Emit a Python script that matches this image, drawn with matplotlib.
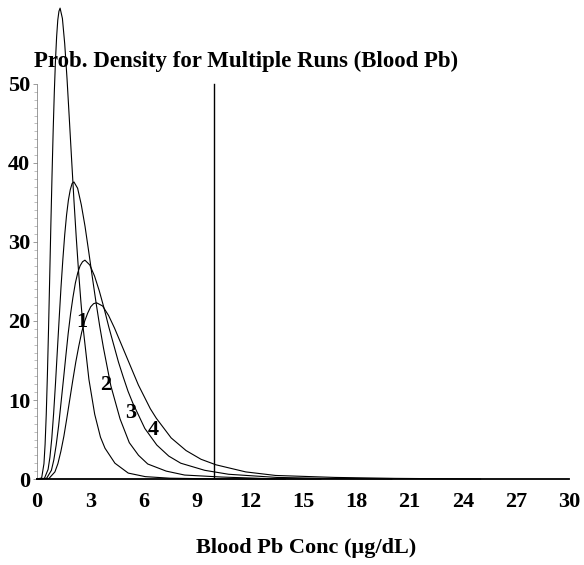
import matplotlib
matplotlib.use("Agg")
import matplotlib.pyplot as plt
from matplotlib.ticker import FixedLocator

# ---- data ----
x_run1 = [0.0, 0.26, 0.39, 0.455, 0.52, 0.585, 0.65, 0.715, 0.78, 0.845, 0.91, 0.975,
          1.04, 1.105, 1.17, 1.235, 1.30, 1.43, 1.56, 1.69, 1.82, 1.95, 2.08, 2.21,
          2.34, 2.47, 2.60, 2.925, 3.25, 3.575, 3.83, 4.39, 5.14, 6.10, 7.50, 10.0, 14.0]
y_run1 = [0.0, 0.13, 1.93, 4.4, 8.17, 13.2, 19.1, 25.6, 32.2, 38.4, 44.1, 49.0,
          53.0, 56.0, 58.1, 59.2, 59.6, 58.3, 55.1, 50.7, 45.6, 40.4, 35.3, 30.6,
          26.3, 22.5, 19.1, 12.6, 8.2, 5.3, 3.9, 2.0, 0.75, 0.3, 0.1, 0.02, 0.0]

x_run2 = [0.0, 0.416, 0.624, 0.728, 0.832, 0.936, 1.04, 1.144, 1.248, 1.352, 1.456, 1.56,
          1.664, 1.768, 1.872, 1.976, 2.08, 2.288, 2.496, 2.704, 2.912, 3.12, 3.328,
          3.536, 3.744, 3.952, 4.16, 4.68, 5.20, 5.72, 6.24, 7.28, 8.32, 10.4, 13.0, 16.0]
y_run2 = [0.0, 0.08, 1.22, 2.78, 5.15, 8.31, 12.07, 16.2, 20.3, 24.3, 27.8, 30.9,
          33.4, 35.3, 36.6, 37.4, 37.6, 36.8, 34.7, 32.0, 28.8, 25.5, 22.3,
          19.3, 16.6, 14.2, 11.8, 7.6, 4.6, 3.0, 1.9, 1.0, 0.5, 0.25, 0.05, 0.0]

x_run3 = [0.0, 0.54, 0.81, 0.945, 1.08, 1.215, 1.35, 1.485, 1.62, 1.755, 1.89, 2.025,
          2.16, 2.295, 2.43, 2.565, 2.70, 2.97, 3.24, 3.51, 3.78, 4.05, 4.32, 4.59,
          4.86, 5.13, 5.40, 6.075, 6.75, 7.425, 8.10, 9.45, 10.8, 13.5, 16.2, 20.0]
y_run3 = [0.0, 0.09, 1.1, 2.4, 4.3, 6.7, 9.6, 12.5, 15.5, 18.4, 20.9, 23.0,
          24.8, 26.1, 27.0, 27.5, 27.7, 27.1, 25.7, 23.8, 21.6, 19.2, 17.0, 14.8,
          12.9, 11.1, 9.6, 6.4, 4.3, 2.9, 2.0, 1.1, 0.6, 0.2, 0.08, 0.0]

x_run4 = [0.0, 0.672, 1.008, 1.176, 1.344, 1.512, 1.68, 1.848, 2.016, 2.184, 2.352, 2.52,
          2.688, 2.856, 3.024, 3.192, 3.36, 3.696, 4.032, 4.368, 4.704, 5.04, 5.376,
          5.712, 6.048, 6.384, 6.72, 7.56, 8.40, 9.24, 10.08, 11.76, 13.44, 16.8, 20.2, 25.0]
y_run4 = [0.0, 0.07, 0.9, 1.94, 3.5, 5.4, 7.7, 10.1, 12.5, 14.8, 16.8, 18.6,
          20.0, 21.0, 21.8, 22.2, 22.3, 21.9, 20.7, 19.1, 17.3, 15.5, 13.7,
          11.9, 10.4, 8.9, 7.7, 5.2, 3.6, 2.5, 1.8, 0.9, 0.45, 0.2, 0.08, 0.0]

run_labels = ["1", "2", "3", "4"]
label_x = [2.53, 3.88, 5.29, 6.53]
label_y = [19.9, 11.9, 8.4, 6.2]

x_ticks = [0, 3, 6, 9, 12, 15, 18, 21, 24, 27, 30]
y_ticks = [0, 10, 20, 30, 40, 50]
ref_x = 10
ref_top = 50

title = "Prob. Density for Multiple Runs (Blood Pb)"
xlabel = "Blood Pb Conc (\u00b5g/dL)"

# ---- drawing ----
plt.rcParams['font.family'] = ['Liberation Serif', 'DejaVu Serif']
fig = plt.figure(figsize=(5.84, 5.65), dpi=100)
ax = fig.add_axes([0.0634, 0.1522, 0.913, 0.839])
ax.set_xlim(0, 30.05)
ax.set_ylim(0, 60)

for xs, ys in [(x_run1, y_run1), (x_run2, y_run2), (x_run3, y_run3), (x_run4, y_run4)]:
    ax.plot(xs, ys, color='black', lw=0.8, clip_on=False)

ax.plot([ref_x, ref_x], [0, ref_top], color='black', lw=1.0)

for t, lx, ly in zip(run_labels, label_x, label_y):
    ax.text(lx, ly, t, ha='center', va='center', fontsize=16, fontweight='bold')

for s in ['top', 'right']:
    ax.spines[s].set_visible(False)
ax.spines['bottom'].set_bounds(0, 30)
ax.spines['bottom'].set_linewidth(1.3)
ax.spines['left'].set_bounds(0, 50)
ax.spines['left'].set_linewidth(0.5)
ax.spines['left'].set_color('0.45')

ax.set_xticks(x_ticks)
ax.set_xticklabels([str(v) for v in x_ticks], fontsize=16, fontweight='bold')
ax.set_yticks(y_ticks)
ax.set_yticklabels([str(v) for v in y_ticks], fontsize=16, fontweight='bold')
ax.yaxis.set_minor_locator(FixedLocator(list(range(0, 51))))
ax.tick_params(axis='x', length=0, pad=9)
ax.tick_params(axis='y', which='major', length=3, width=0.5, color='0.45', pad=2)
ax.tick_params(axis='y', which='minor', length=2, width=0.4, color='0.55')

fig.text(0.421, 0.892, title, ha='center', va='center', fontsize=16.5, fontweight='bold')
fig.text(0.524, 0.03, xlabel, ha='center', va='center', fontsize=16, fontweight='bold')

fig.savefig("out.png", dpi=100)
